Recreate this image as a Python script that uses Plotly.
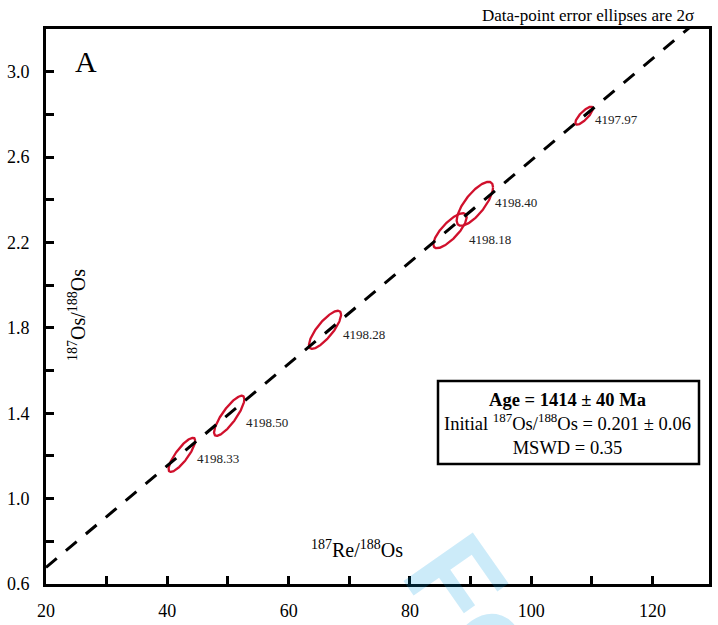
import numpy as np
import plotly.graph_objects as go

# ---------------- data ----------------
sample_ids = ["4198.33", "4198.50", "4198.28", "4198.18", "4198.40", "4197.97"]
re_os = [42.4, 50.2, 66.0, 86.6, 90.7, 108.7]          # 187Re/188Os
re_os_2s = [2.2, 2.5, 2.65, 2.75, 3.0, 1.45]           # 2-sigma
os_os = [1.205, 1.388, 1.791, 2.255, 2.381, 2.794]     # 187Os/188Os
os_os_2s = [0.080, 0.094, 0.089, 0.082, 0.103, 0.042]  # 2-sigma
err_rho = [0.83, 0.83, 0.80, 0.78, 0.75, 0.80]

age_ma = 1414
age_err_ma = 40
initial_os = 0.201
initial_os_err = 0.06
mswd = 0.35
decay_const = 1.666e-11  # 187Re decay constant (1/yr)

x_tick_vals = [20, 40, 60, 80, 100, 120]
y_tick_vals = [0.6, 1.0, 1.4, 1.8, 2.2, 2.6, 3.0]
x_range = [20, 129.3]
y_range = [0.6, 3.2]

# label offsets (pixels) - layout only
label_dy = [-4, -7, -5, -9, 1, -4]

SERIF = "Liberation Serif, Times New Roman, serif"

# ---------------- figure ----------------
fig = go.Figure()

red = "rgb(208,16,44)"
t = np.linspace(0, 2 * np.pi, 181)
for cx, a, cy, b, r in zip(re_os, re_os_2s, os_os, os_os_2s, err_rho):
    ex = cx + a * np.cos(t)
    ey = cy + b * (r * np.cos(t) + np.sqrt(1 - r * r) * np.sin(t))
    fig.add_trace(go.Scatter(x=ex, y=ey, mode="lines",
                             line=dict(color=red, width=2.3),
                             hoverinfo="skip", showlegend=False))

slope = np.expm1(decay_const * age_ma * 1e6)
xl = np.array([x_range[0], x_range[1] + 1])
yl = initial_os + slope * xl
fig.add_trace(go.Scatter(x=xl, y=yl, mode="lines",
                         line=dict(color="black", width=3, dash="14px,12px"),
                         hoverinfo="skip", showlegend=False))

ann = []
for sid, cx, a, cy, dy in zip(sample_ids, re_os, re_os_2s, os_os, label_dy):
    ann.append(dict(x=cx + a, y=cy, xref="x", yref="y", text=sid,
                    showarrow=False, xanchor="left", yanchor="middle",
                    xshift=0, yshift=dy,
                    font=dict(family=SERIF, size=13, color="#222")))

W, H = 718, 625
ml, mr, mt, mb = 46, 9, 29, 41
pw, ph = W - ml - mr, H - mt - mb


def px(xp):
    return (xp - ml) / pw


def py(yp):
    return (H - mb - yp) / ph


# watermark
ann.append(dict(x=px(477), y=py(611), xref="paper", yref="paper", text="<b>Fo</b>",
                showarrow=False, textangle=55, xanchor="center", yanchor="middle",
                font=dict(family="Liberation Sans, Arial, sans-serif", size=123,
                          color="rgba(0,155,225,0.2)")))

# panel letter
ann.append(dict(x=px(86), y=py(62), xref="paper", yref="paper", text="A",
                showarrow=False, xanchor="center", yanchor="middle",
                font=dict(family=SERIF, size=30, color="black")))

# axis titles (inside plot)
ann.append(dict(x=px(357), y=py(549), xref="paper", yref="paper",
                text="<sup>187</sup>Re/<sup>188</sup>Os",
                showarrow=False, xanchor="center", yanchor="middle",
                font=dict(family=SERIF, size=20, color="black")))
ann.append(dict(x=px(77), y=py(315), xref="paper", yref="paper",
                text="<sup>187</sup>Os/<sup>188</sup>Os", textangle=-90,
                showarrow=False, xanchor="center", yanchor="middle",
                font=dict(family=SERIF, size=20, color="black")))

# top note
ann.append(dict(x=px(480), y=py(15), xref="paper", yref="paper",
                text="Data-point error ellipses are 2σ",
                showarrow=False, xanchor="left", yanchor="middle",
                font=dict(family=SERIF, size=17, color="black")))

# results box
box_text = (f"<b>Age = {age_ma} ± {age_err_ma} Ma</b><br>"
            f"Initial <sup>187</sup>Os/<sup>188</sup>Os = {initial_os} ± {initial_os_err}<br>"
            f"MSWD = {mswd}")
ann.append(dict(x=px(567), y=py(424), xref="paper", yref="paper",
                text=box_text, showarrow=False, xanchor="center", yanchor="middle",
                align="center",
                font=dict(family=SERIF, size=18.5, color="black")))

shapes = [dict(type="rect", xref="paper", yref="paper",
               x0=px(438), x1=px(699), y0=py(464), y1=py(381),
               line=dict(color="black", width=2.5), fillcolor="white", layer="below")]

axis_common = dict(showgrid=False, zeroline=False, showline=True, linewidth=3,
                   linecolor="black", mirror=True, ticks="inside", ticklen=8,
                   tickwidth=2.5, tickcolor="black", automargin=False,
                   tickfont=dict(family=SERIF, size=18, color="black"))

fig.update_layout(
    width=W, height=H,
    margin=dict(l=ml, r=mr, t=mt, b=mb, autoexpand=False),
    paper_bgcolor="white", plot_bgcolor="white",
    showlegend=False,
    annotations=ann,
    shapes=shapes,
    xaxis=dict(range=x_range, tickvals=x_tick_vals, ticklabelstandoff=8,
               minor=dict(ticks="inside", ticklen=8, tickwidth=2.5,
                          tickcolor="black", dtick=10, tick0=20, showgrid=False),
               **axis_common),
    yaxis=dict(range=y_range, tickvals=y_tick_vals, tickformat=".1f",
               ticklabelstandoff=10,
               minor=dict(ticks="inside", ticklen=8, tickwidth=2.5,
                          tickcolor="black", dtick=0.2, tick0=0.6, showgrid=False),
               **axis_common),
)

fig.write_html("out.html",
               config={"displayModeBar": False},
               post_script="document.body.style.margin='0';"
                           "document.body.style.overflow='hidden';")
